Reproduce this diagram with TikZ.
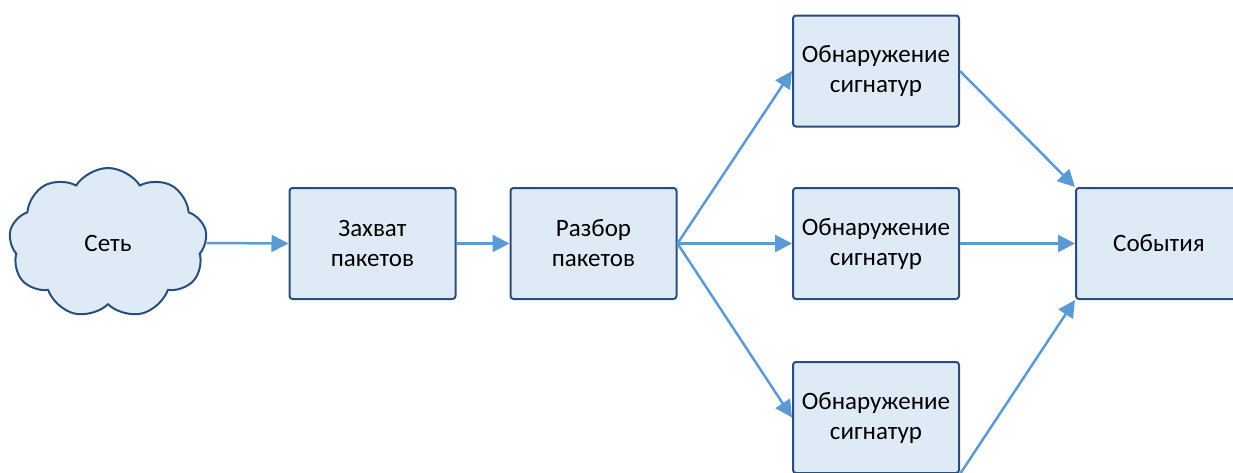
\documentclass[tikz,border=0pt]{standalone}
\usepackage{fontspec}
\setmainfont{Carlito}
\usetikzlibrary{arrows.meta,shapes.symbols}
\definecolor{boxfill}{RGB}{222,235,247}
\definecolor{boxline}{RGB}{40,78,125}
\definecolor{arrowcol}{RGB}{91,155,213}
\tikzset{
  block/.style={draw=boxline,fill=boxfill,line width=1pt,rounded corners=1.5pt,
    minimum width=83pt,minimum height=55.5pt,align=center,inner sep=0pt},
  flow/.style={draw=arrowcol,line width=1.25pt,-{Triangle[length=8.5pt,width=8.5pt]}}
}

\begin{document}
\begin{tikzpicture}[x=0.5pt,y=-0.5pt,font=\fontsize{12.5}{15}\selectfont]
\useasboundingbox (0,0) rectangle (1233,472);
\clip (0,0) rectangle (1233,472);
\node[cloud,cloud puffs=9,cloud puff arc=115,aspect=1.4,draw=boxline,fill=boxfill,
  line width=1pt,minimum width=99pt,minimum height=75pt,inner sep=0pt] (net) at (108,243) {Сеть};
\node[block] (cap) at (372.5,243.5) {Захват\\пакетов};
\node[block] (parse) at (593.5,243.5) {Разбор\\пакетов};
\foreach \n/\y in {top/71,mid/243.5,bot/417.5}{
  \node[block] (sig\n) at (876,\y) {Обнаружение\\сигнатур};
}
\node[block] (events) at (1159,243.5) {События};
\draw[flow] (net.east) -- (cap.west);
\draw[flow] (cap) -- (parse);
\foreach \n in {top,mid,bot}{
  \draw[flow] (parse.east) -- (sig\n.west);
}
\draw[flow] (sigtop.east) -- (events.north west);
\draw[flow] (sigmid.east) -- (events.west);
\draw[flow] (sigbot.south east) -- (events.south west);
\end{tikzpicture}
\end{document}
